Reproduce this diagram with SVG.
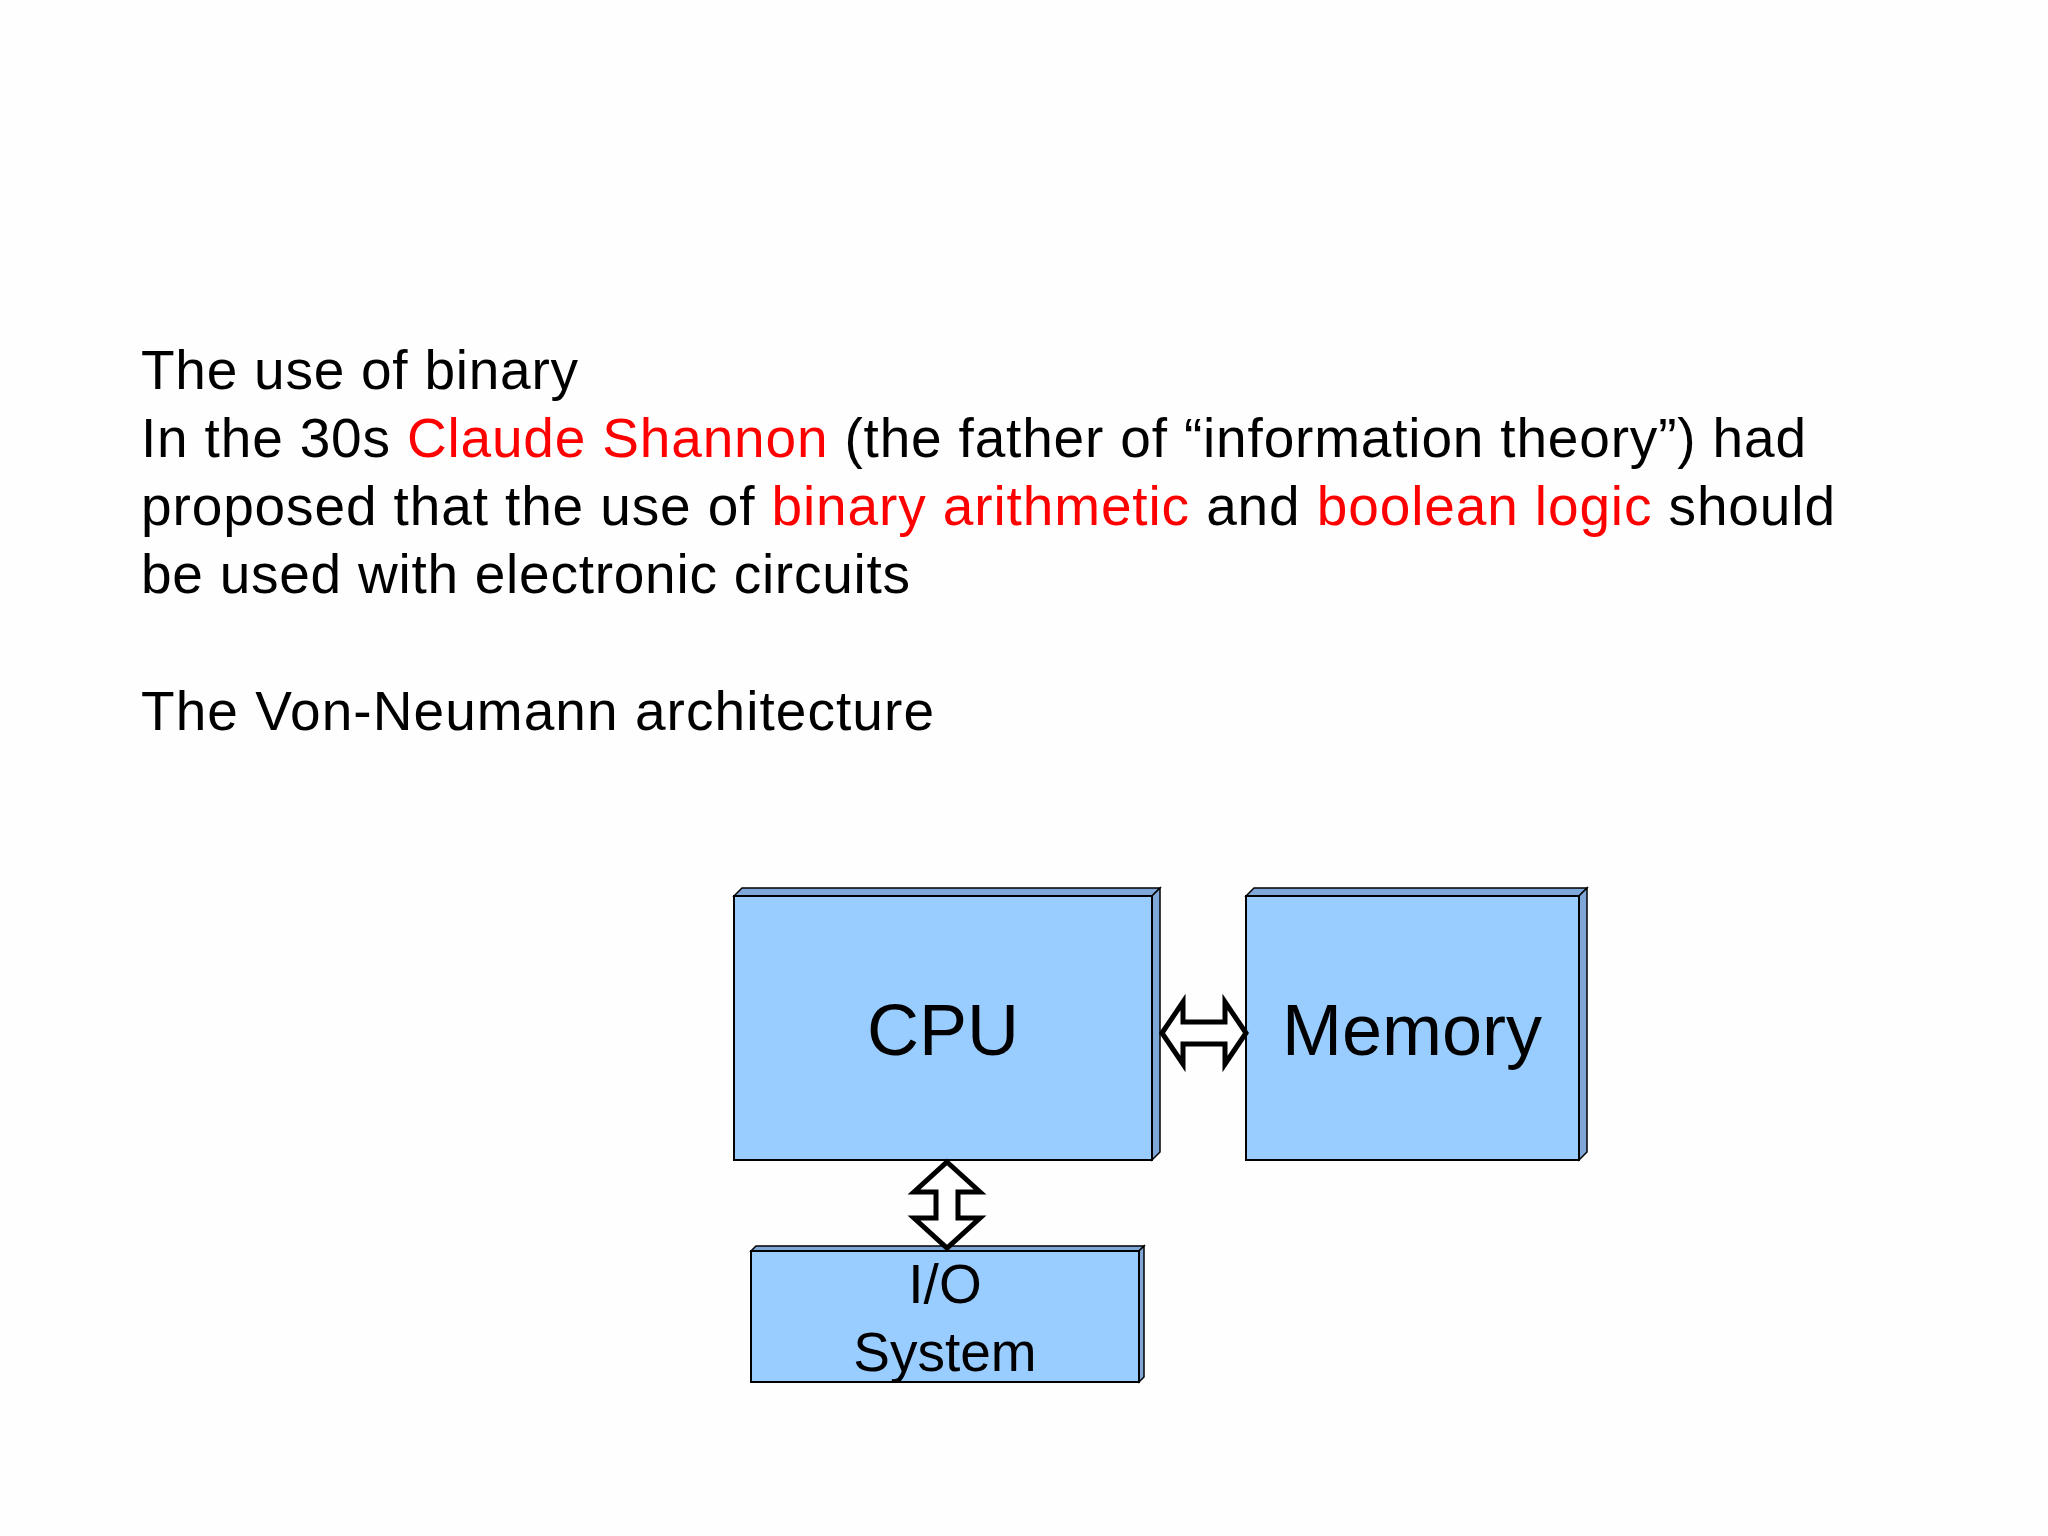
<svg xmlns="http://www.w3.org/2000/svg" width="2048" height="1536" viewBox="0 0 2048 1536">
<style>
text{font-family:"Liberation Sans",Arial,sans-serif;fill:#000}
.t{font-size:55px}
.r{fill:#ff0000}
.front{fill:#99ccff;stroke:#000;stroke-width:2}
.side{fill:#7fa8d8;stroke:#000;stroke-width:1.5}
.arr{fill:#fff;stroke:#000;stroke-width:5;stroke-linejoin:miter}
</style>
<rect width="2048" height="1536" fill="#fefefe"/>
<g id="text">
<text class="t" x="141" y="389" textLength="437">The use of binary</text>
<text class="t" x="141" y="457" textLength="1665">In the 30s <tspan class="r">Claude Shannon</tspan> (the father of “information theory”) had</text>
<text class="t" x="141" y="525" textLength="1694">proposed that the use of <tspan class="r">binary arithmetic</tspan> and <tspan class="r">boolean logic</tspan> should</text>
<text class="t" x="141" y="593" textLength="769">be used with electronic circuits</text>
<text class="t" x="141" y="730" textLength="793">The Von-Neumann architecture</text>
</g>
<g id="cpu">
<polygon class="side" points="734,896 742,888 1160,888 1152,896"/>
<polygon class="side" points="1152,896 1160,888 1160,1152 1152,1160"/>
<rect class="front" x="734" y="896" width="418" height="264"/>
<text x="943" y="1055" font-size="72" text-anchor="middle">CPU</text>
</g>
<g id="memory">
<polygon class="side" points="1246,896 1254,888 1587,888 1579,896"/>
<polygon class="side" points="1579,896 1587,888 1587,1152 1579,1160"/>
<rect class="front" x="1246" y="896" width="333" height="264"/>
<text x="1412" y="1055" font-size="72" text-anchor="middle">Memory</text>
</g>
<g id="io">
<polygon class="side" points="751,1251 756,1246 1144,1246 1139,1251"/>
<polygon class="side" points="1139,1251 1144,1246 1144,1377 1139,1382"/>
<rect class="front" x="751" y="1251" width="388" height="131"/>
<text x="945" y="1303" font-size="55" text-anchor="middle">I/O</text>
<text x="945" y="1371" font-size="55" text-anchor="middle">System</text>
</g>
<g id="connectors">
<polygon class="arr" points="1162,1033 1183,1002 1183,1022 1225,1022 1225,1002 1246,1033 1225,1064 1225,1044 1183,1044 1183,1064"/>
<polygon class="arr" points="947,1162 980,1192 958,1192 958,1218 980,1218 947,1248 914,1218 936,1218 936,1192 914,1192"/>
</g>
</svg>
